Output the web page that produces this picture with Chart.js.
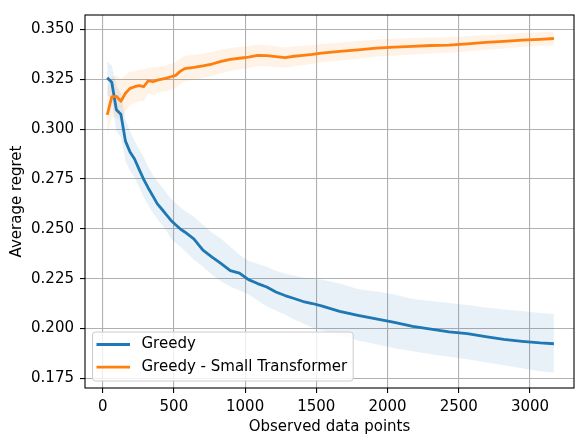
<!DOCTYPE html>
<html>
<head>
<meta charset="utf-8">
<script src="https://cdn.jsdelivr.net/npm/chart.js@4.4.1/dist/chart.umd.min.js"></script>
<style>
    html, body { margin: 0; padding: 0; background: #fff; }
    #wrap { width: 575px; height: 436px; }
</style>
</head>
<body>
<div id="wrap"><canvas id="regret-chart" width="575" height="436"></canvas></div>
<script>
// Observed data points (x)
const observedPoints = [32, 64, 96, 128, 160, 192, 224, 256, 288, 320, 352, 384, 416, 448, 480, 512, 544, 576,
    640, 704, 768, 832, 896, 960, 1024, 1088, 1152, 1216, 1280, 1344, 1408, 1472, 1536,
    1664, 1792, 1920, 2048, 2176, 2304, 2432, 2560, 2688, 2816, 2944, 3072, 3168];

// Greedy: mean and band
const greedy = [0.3258, 0.3236, 0.3098, 0.3075, 0.2940, 0.2886, 0.2850, 0.2798, 0.2748, 0.2705, 0.2665, 0.2625, 0.2598, 0.2570, 0.2542, 0.2520, 0.2500, 0.2484,
    0.2450, 0.2393, 0.2358, 0.2325, 0.2290, 0.2278, 0.2245, 0.2225, 0.2208, 0.2183, 0.2165, 0.2150, 0.2135, 0.2125, 0.2113,
    0.2086, 0.2066, 0.2048, 0.2030, 0.2010, 0.1997, 0.1983, 0.1974, 0.1959, 0.1945, 0.1935, 0.1927, 0.1923];
const greedyHigh = [0.334, 0.332, 0.322, 0.318, 0.305, 0.299, 0.294, 0.290, 0.286, 0.281, 0.277, 0.274, 0.271, 0.268, 0.265, 0.263, 0.261, 0.259,
    0.256, 0.252, 0.248, 0.245, 0.241, 0.237, 0.234, 0.2325, 0.231, 0.229, 0.2275, 0.2265, 0.2255, 0.225, 0.2245,
    0.2225, 0.2198, 0.2185, 0.217, 0.2148, 0.2138, 0.2127, 0.2118, 0.2105, 0.2095, 0.2087, 0.2078, 0.2073];
const greedyLow = [0.317, 0.315, 0.299, 0.296, 0.284, 0.279, 0.276, 0.271, 0.266, 0.262, 0.258, 0.255, 0.252, 0.249, 0.245, 0.243, 0.241, 0.239,
    0.2345, 0.231, 0.227, 0.2235, 0.221, 0.219, 0.217, 0.214, 0.211, 0.209, 0.207, 0.2045, 0.2025, 0.2005, 0.199,
    0.1965, 0.194, 0.192, 0.190, 0.1885, 0.187, 0.1858, 0.1845, 0.183, 0.1815, 0.180, 0.1785, 0.1777];

// Greedy - Small Transformer: mean and band
const smallTransformer = [0.3072, 0.3162, 0.3165, 0.3140, 0.3180, 0.3205, 0.3213, 0.3218, 0.3213, 0.3243, 0.3238, 0.3246, 0.3251, 0.3256, 0.3263, 0.3270, 0.3290, 0.3304,
    0.3310, 0.3318, 0.3327, 0.3340, 0.3350, 0.3356, 0.3362, 0.3370, 0.3369, 0.3364, 0.3359, 0.3366, 0.3370, 0.3375, 0.3382,
    0.3390, 0.3398, 0.3407, 0.3412, 0.3416, 0.3420, 0.3422, 0.3428, 0.3436, 0.3441, 0.3447, 0.3451, 0.3455];
const smallHigh = [0.321, 0.326, 0.327, 0.325, 0.327, 0.329, 0.329, 0.330, 0.330, 0.331, 0.331, 0.3311, 0.3316, 0.3321, 0.3328, 0.3335, 0.3354, 0.3368,
    0.3372, 0.3379, 0.3387, 0.3399, 0.3408, 0.3413, 0.3417, 0.3424, 0.3422, 0.3416, 0.3410, 0.3416, 0.3419, 0.3422, 0.3428,
    0.3435, 0.3442, 0.3450, 0.3454, 0.3457, 0.3460, 0.3461, 0.3466, 0.3473, 0.3477, 0.3483, 0.3486, 0.3490];
const smallLow = [0.297, 0.306, 0.306, 0.304, 0.309, 0.312, 0.313, 0.314, 0.314, 0.318, 0.317, 0.3181, 0.3186, 0.3191, 0.3198, 0.3205, 0.3226, 0.3240,
    0.3248, 0.3257, 0.3267, 0.3281, 0.3292, 0.3299, 0.3307, 0.3316, 0.3316, 0.3312, 0.3308, 0.3316, 0.3321, 0.3328, 0.3336,
    0.3345, 0.3354, 0.3364, 0.3370, 0.3375, 0.3380, 0.3383, 0.3390, 0.3399, 0.3405, 0.3412, 0.3417, 0.3420];

// Tick labels
const xTicks = [0, 500, 1000, 1500, 2000, 2500, 3000];
const yTicks = [0.175, 0.200, 0.225, 0.250, 0.275, 0.300, 0.325, 0.350];

const FONT = 15;
Chart.defaults.font.family = "'DejaVu Sans', sans-serif";
Chart.defaults.font.size = FONT;
Chart.defaults.color = '#000';

function toPoints(values) {
    return observedPoints.map((x, i) => ({ x: x, y: values[i] }));
}

// Black frame around the plot area (matplotlib spines)
const framePlugin = {
    id: 'frame',
    afterDatasetsDraw(chart) {
        const { ctx, chartArea: a } = chart;
        ctx.save();
        ctx.strokeStyle = '#000';
        ctx.lineWidth = 1.1;
        ctx.strokeRect(a.left, a.top, a.right - a.left, a.bottom - a.top);
        ctx.restore();
    }
};

// Legend box inside the lower left corner
const boxLegendPlugin = {
    id: 'boxLegend',
    afterDraw(chart) {
        const { ctx, chartArea: a } = chart;
        const items = chart.data.datasets.filter(d => d.inLegend);
        ctx.save();
        ctx.font = FONT + "px 'DejaVu Sans'";
        const textW = Math.max(...items.map(d => ctx.measureText(d.label).width));
        const rowH = 22.7;
        const boxW = 49 + textW + 6;
        const boxH = 49;
        const left = a.left + 7.5;
        const top = a.bottom - 7 - boxH;
        ctx.beginPath();
        ctx.roundRect(left, top, boxW, boxH, 3);
        ctx.fillStyle = 'rgba(255,255,255,0.8)';
        ctx.fill();
        ctx.strokeStyle = '#cccccc';
        ctx.lineWidth = 1;
        ctx.stroke();
        items.forEach((d, i) => {
            const y = top + 12.5 + i * rowH;
            ctx.beginPath();
            ctx.moveTo(left + 4, y);
            ctx.lineTo(left + 37.5, y);
            ctx.strokeStyle = d.borderColor;
            ctx.lineWidth = d.borderWidth;
            ctx.stroke();
            ctx.fillStyle = '#000';
            ctx.textBaseline = 'middle';
            ctx.textAlign = 'left';
            ctx.fillText(d.label, left + 49, y);
        });
        ctx.restore();
    }
};

function bandDataset(values, color, fill) {
    return {
        data: toPoints(values),
        borderWidth: 0,
        pointRadius: 0,
        backgroundColor: color,
        fill: fill,
        order: 10
    };
}

function lineDataset(label, values, color, order) {
    return {
        label: label,
        inLegend: true,
        data: toPoints(values),
        borderColor: color,
        borderWidth: 2.8,
        borderJoinStyle: 'round',
        pointRadius: 0,
        tension: 0,
        fill: false,
        order: order
    };
}

function generarGrafica() {
    const ctx = document.getElementById('regret-chart').getContext('2d');
    new Chart(ctx, {
        type: 'line',
        data: {
            datasets: [
                bandDataset(greedyLow, 'rgba(31,119,180,0.1)', false),
                bandDataset(greedyHigh, 'rgba(31,119,180,0.1)', '-1'),
                bandDataset(smallLow, 'rgba(255,127,14,0.1)', false),
                bandDataset(smallHigh, 'rgba(255,127,14,0.1)', '-1'),
                lineDataset('Greedy', greedy, '#1f77b4', 2),
                lineDataset('Greedy - Small Transformer', smallTransformer, '#ff7f0e', 1)
            ]
        },
        options: {
            responsive: false,
            animation: false,
            devicePixelRatio: 1,
            layout: { padding: { top: 12, right: 1, left: 0, bottom: 0 } },
            plugins: {
                legend: { display: false },
                tooltip: { enabled: false }
            },
            scales: {
                x: {
                    type: 'linear',
                    min: -124,
                    max: 3309,
                    afterBuildTicks: s => { s.ticks = xTicks.map(v => ({ value: v })); },
                    afterFit: s => { s.height = 48; },
                    grid: { color: '#b0b0b0', lineWidth: 1.1, tickLength: 5, tickColor: '#000', tickWidth: 1.1 },
                    border: { display: false },
                    ticks: { padding: 5.5, maxRotation: 0, autoSkip: false, callback: v => String(v) },
                    title: { display: true, text: 'Observed data points', padding: { top: 0, bottom: 0.3 } }
                },
                y: {
                    type: 'linear',
                    min: 0.1701,
                    max: 0.3573,
                    afterBuildTicks: s => { s.ticks = yTicks.map(v => ({ value: v })); },
                    afterFit: s => { s.width = 85; },
                    grid: { color: '#b0b0b0', lineWidth: 1.1, tickLength: 5, tickColor: '#000', tickWidth: 1.1 },
                    border: { display: false },
                    ticks: { padding: 6, autoSkip: false, callback: v => v.toFixed(3) },
                    title: { display: true, text: 'Average regret', padding: { top: 8.5, bottom: 0 } }
                }
            }
        },
        plugins: [framePlugin, boxLegendPlugin]
    });
}

generarGrafica();
</script>
</body>
</html>
